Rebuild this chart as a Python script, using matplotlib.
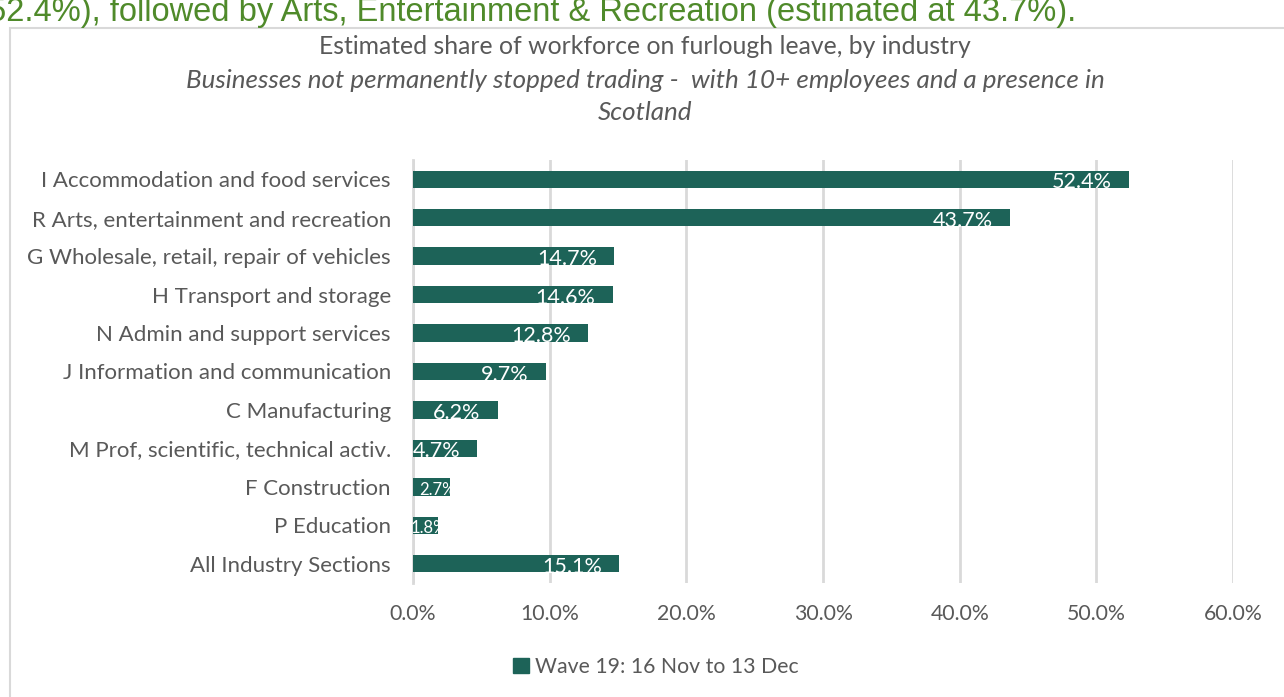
import matplotlib
matplotlib.use("Agg")
import matplotlib.pyplot as plt
from matplotlib.patches import Rectangle
from matplotlib.ticker import FuncFormatter

industries = [
    "I Accommodation and food services",
    "R Arts, entertainment and recreation",
    "G Wholesale, retail, repair of vehicles",
    "H Transport and storage",
    "N Admin and support services",
    "J Information and communication",
    "C Manufacturing",
    "M Prof, scientific, technical activ.",
    "F Construction",
    "P Education",
    "All Industry Sections",
]
values = [52.4, 43.7, 14.7, 14.6, 12.8, 9.7, 6.2, 4.7, 2.7, 1.8, 15.1]
series_name = "Wave 19: 16 Nov to 13 Dec"
xticks = [0, 10, 20, 30, 40, 50, 60]

BAR = "#1d6358"
GREY = "#595959"
FONT = ["Lato", "DejaVu Sans"]
plt.rcParams["font.family"] = FONT

W, H = 1284, 697
fig = plt.figure(figsize=(W / 100, H / 100), dpi=100)

# chart frame
fig.patches.append(Rectangle((10 / W, -0.1), 1.2, (H - 28) / H + 0.1,
                             transform=fig.transFigure, fill=False,
                             edgecolor="#d9d9d9", linewidth=1.5))

# clipped heading text from surrounding document
fig.text(-12 / W, 1 - 21 / H,
         "52.4%), followed by Arts, Entertainment & Recreation (estimated at 43.7%).",
         color="#4f8a2a", fontsize=23.5, family=["Liberation Sans"], ha="left",
         va="baseline")

ax = fig.add_axes([413 / W, 1 - 583 / H, (1233 - 413) / W, (583 - 160) / H])
ys = list(range(len(industries)))
bars = ax.barh(ys, values, height=0.45, color=BAR, zorder=3)
ax.set_ylim(len(industries) - 0.5, -0.5)
ax.set_xlim(0, 60)
ax.set_xticks(xticks)
ax.xaxis.set_major_formatter(FuncFormatter(lambda v, p: f"{v:.1f}%"))
ax.set_yticks(ys)
ax.set_yticklabels(industries)
ax.tick_params(axis="y", length=0, pad=16, labelsize=16, labelcolor=GREY)
ax.tick_params(axis="x", length=0, pad=15, labelsize=15.3, labelcolor=GREY)
ax.grid(axis="x", color="#d9d9d9", linewidth=2, zorder=0)
for s in ["top", "right", "bottom"]:
    ax.spines[s].set_visible(False)
ax.spines["left"].set_color("#d9d9d9")
ax.spines["left"].set_linewidth(2)

for b, v in zip(bars, values):
    yc = b.get_y() + b.get_height() / 2
    if v >= 4:
        t = ax.text(v - 1.25, yc + 0.08, f"{v:.1f}%", ha="right", va="center",
                    color="white", fontsize=15.5, zorder=4)
    else:
        t = ax.text(v * 0.65, yc + 0.08, f"{v:.1f}%", ha="center", va="center",
                    color="white", fontsize=12, zorder=4)
    t.set_clip_path(b)

fig.text(0.5 + 3 / W, 1 - 46 / H, "Estimated share of workforce on furlough leave, by industry",
         ha="center", va="center", color=GREY, fontsize=17.8)
fig.text(0.5 + 3 / W, 1 - 80 / H,
         "Businesses not permanently stopped trading -  with 10+ employees and a presence in",
         ha="center", va="center", color=GREY, fontsize=18.7, style="italic")
fig.text(0.5 + 3 / W, 1 - 112 / H, "Scotland",
         ha="center", va="center", color=GREY, fontsize=18.7, style="italic")

fig.legend([Rectangle((0, 0), 1, 1, color=BAR)], [series_name],
           loc="center", bbox_to_anchor=(656 / W, 1 - 667 / H), frameon=False,
           fontsize=15.3, labelcolor=GREY, handlelength=0.75, handleheight=0.75,
           handletextpad=0.3)

fig.savefig("out.png", dpi=100)
